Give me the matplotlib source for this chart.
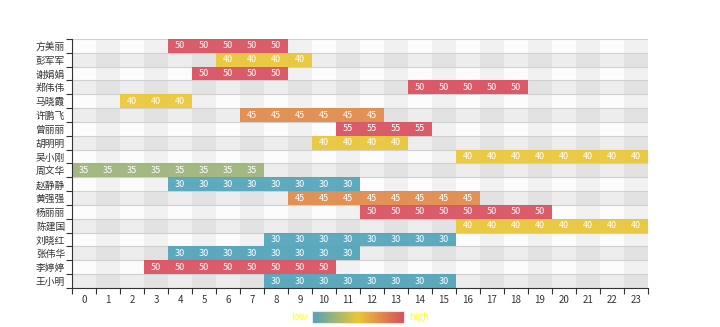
import numpy as np
import matplotlib
matplotlib.use("Agg")
import matplotlib.pyplot as plt
from matplotlib.colors import LinearSegmentedColormap

plt.rcParams['font.family'] = ['Noto Sans CJK SC', 'DejaVu Sans']

# people, top to bottom
names = ['方美丽', '彭军军', '谢娟娟', '郑伟伟', '马晓霞', '许鹏飞', '曾丽丽', '胡明明', '吴小刚',
         '周文华', '赵静静', '黄强强', '杨丽丽', '陈建国', '刘晓红', '张伟华', '李婷婷', '王小明']
hours = list(range(24))
# first hour, last hour, value for each person
start = [4, 6, 5, 14, 2, 7, 11, 10, 16, 0, 4, 9, 12, 16, 8, 4, 3, 8]
end = [8, 9, 8, 18, 4, 12, 14, 13, 23, 7, 11, 16, 19, 23, 15, 11, 10, 15]
value = [50, 40, 50, 50, 40, 45, 55, 40, 40, 35, 30, 45, 50, 40, 30, 30, 50, 30]

cmap = LinearSegmentedColormap.from_list('vm', ['#50a3ba', '#eac736', '#d94e5d'])
vmin, vmax = 30, 50

nrow, ncol = len(names), len(hours)
grid = np.full((nrow, ncol), np.nan)
for i in range(nrow):
    for h in range(start[i], end[i] + 1):
        grid[i, h] = value[i]

fig = plt.figure(figsize=(7.2, 3.27), dpi=100)
ax = fig.add_axes([72 / 720, 39 / 327, 576 / 720, 249 / 327])

# striped background (x and y split areas)
for c in range(ncol):
    col = (250, 250, 250) if c % 2 == 0 else (200, 200, 200)
    ax.axvspan(c - 0.5, c + 0.5, color=np.array(col) / 255, alpha=0.3, lw=0, zorder=0)
for r in range(nrow):
    col = (250, 250, 250) if r % 2 == 0 else (200, 200, 200)
    ax.axhspan(r - 0.5, r + 0.5, color=np.array(col) / 255, alpha=0.3, lw=0, zorder=0)
for r in range(nrow + 1):
    ax.axhline(r - 0.5, color='#d0d0d0', lw=0.8, zorder=1)

masked = np.ma.masked_invalid(grid)
ax.pcolormesh(np.arange(ncol + 1) - 0.5, np.arange(nrow + 1) - 0.5, masked,
              cmap=cmap, vmin=vmin, vmax=vmax, alpha=0.92, zorder=2)
for i in range(nrow):
    for h in range(ncol):
        if not np.isnan(grid[i, h]):
            ax.text(h, i, f'{int(grid[i, h])}', ha='center', va='center',
                    color='white', fontsize=6.5, zorder=3)

ax.set_xlim(-0.5, ncol - 0.5)
ax.set_ylim(nrow - 0.5, -0.5)
ax.set_xticks(hours)
ax.set_xticklabels([str(h) for h in hours], fontsize=7, color='#333333')
ax.set_yticks(range(nrow))
ax.set_yticklabels(names, fontsize=7, color='#333333')
ax.tick_params(axis='both', which='major', length=0, pad=5)
ax.set_xticks(np.arange(ncol + 1) - 0.5, minor=True)
ax.set_yticks(np.arange(nrow + 1) - 0.5, minor=True)
ax.tick_params(axis='both', which='minor', length=4, color='#333333', width=0.8)
for s in ['top', 'right']:
    ax.spines[s].set_visible(False)
for s in ['left', 'bottom']:
    ax.spines[s].set_color('#333333')
    ax.spines[s].set_linewidth(0.8)

# visual map legend
cax = fig.add_axes([312 / 720, 4 / 327, 92 / 720, 12 / 327])
cax.imshow(np.linspace(0, 1, 256)[None, :], cmap=cmap, aspect='auto', extent=[0, 1, 0, 1])
cax.set_xticks([])
cax.set_yticks([])
for s in cax.spines.values():
    s.set_color('#e8e8e8')
fig.text(299 / 720, 10 / 327, 'low', color='#ffff33', fontsize=7, ha='center', va='center')
fig.text(419 / 720, 10 / 327, 'high', color='#ffff33', fontsize=7, ha='center', va='center')

fig.savefig('out.png', dpi=100)
